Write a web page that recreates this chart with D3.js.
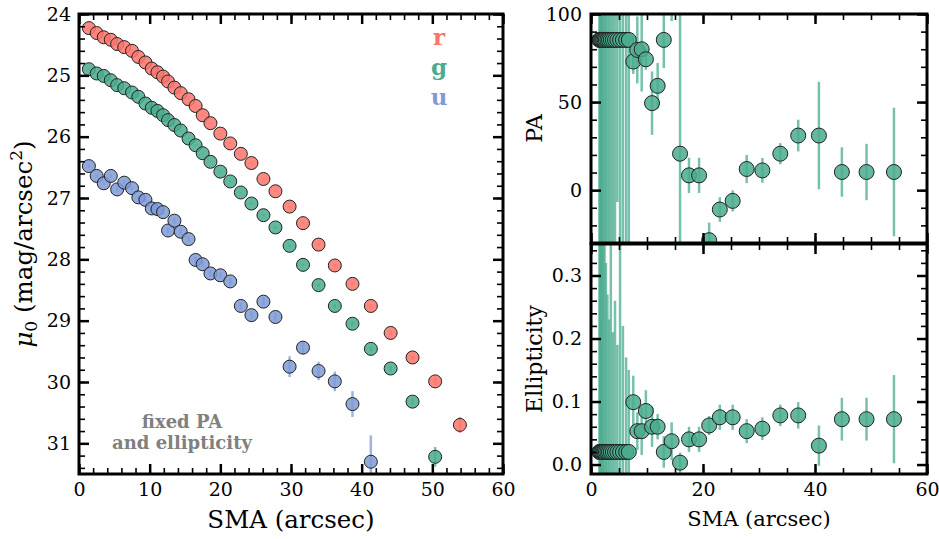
<!DOCTYPE html>
<meta charset="utf-8">
<style>
body { margin: 0; background: #fff; }
text { font-family: "DejaVu Serif", serif; }
.tick text { font-size: 19px; fill: #000; }
.axis path { display: none; }
.axis line { stroke: #000; }
.major line { stroke-width: 2.5; }
.minor line { stroke-width: 1.6; }
</style>
<svg width="939" height="539"></svg>
<script src="https://d3js.org/d3.v7.min.js"></script>
<script>

// ---- left panel: surface brightness profiles (fixed PA / ellipticity) ----
var smaL = [1.4, 2.5, 3.5, 4.5, 5.4, 6.4, 7.5, 8.4, 9.4, 10.3, 11.1, 11.9, 12.6, 13.5, 14.4, 15.5, 16.5, 17.5,
            18.6, 20.0, 21.4, 22.9, 24.4, 26.1, 27.8, 29.8, 31.7, 33.9, 36.2, 38.7, 41.3, 44.1, 47.2, 50.4, 53.9];

var muR = [24.23, 24.31, 24.38, 24.42, 24.49, 24.54, 24.60, 24.70, 24.79, 24.89, 24.95, 25.02, 25.10, 25.20,
           25.29, 25.39, 25.50, 25.65, 25.78, 25.95, 26.11, 26.28, 26.43, 26.69, 26.89, 27.14, 27.41, 27.76,
           28.10, 28.40, 28.76, 29.20, 29.60, 29.99, 30.70];
var errR = [0.01, 0.01, 0.01, 0.01, 0.01, 0.01, 0.01, 0.01, 0.01, 0.01, 0.01, 0.01, 0.01, 0.01, 0.01, 0.01, 0.01,
            0.01, 0.01, 0.01, 0.01, 0.01, 0.01, 0.01, 0.01, 0.01, 0.01, 0.02, 0.02, 0.02, 0.03, 0.03, 0.04, 0.06, 0.13];

var muG = [24.90, 24.97, 25.01, 25.08, 25.16, 25.21, 25.28, 25.35, 25.46, 25.53, 25.58, 25.65, 25.73, 25.81,
           25.90, 26.03, 26.14, 26.27, 26.41, 26.57, 26.73, 26.91, 27.09, 27.28, 27.48, 27.78, 28.09, 28.42,
           28.76, 29.05, 29.46, 29.78, 30.32, 31.22];
var errG = [0.01, 0.01, 0.01, 0.01, 0.01, 0.01, 0.01, 0.01, 0.01, 0.01, 0.01, 0.01, 0.01, 0.01, 0.01, 0.01, 0.01,
            0.01, 0.01, 0.01, 0.01, 0.01, 0.02, 0.02, 0.02, 0.02, 0.02, 0.03, 0.03, 0.04, 0.04, 0.05, 0.06, 0.16];

var muU = [26.48, 26.64, 26.76, 26.64, 26.86, 26.75, 26.84, 26.99, 27.03, 27.17, 27.18, 27.23, 27.53, 27.37,
           27.55, 27.67, 28.01, 28.08, 28.23, 28.26, 28.36, 28.76, 28.91, 28.69, 28.94, 29.75, 29.44, 29.82,
           29.99, 30.36, 31.30];
var errU = [0.03, 0.03, 0.03, 0.03, 0.03, 0.03, 0.03, 0.03, 0.04, 0.04, 0.04, 0.04, 0.04, 0.05, 0.05, 0.05, 0.05,
            0.05, 0.05, 0.05, 0.06, 0.06, 0.06, 0.07, 0.07, 0.17, 0.10, 0.15, 0.16, 0.21, 0.43];

var bands = ["r", "g", "u"];
var bandColors = {r: "#fb746b", g: "#4aab8f", u: "#7f9ad6"};

// ---- right panels: free PA / ellipticity fit ----
var smaF = [1.5, 1.65, 1.82, 2.0, 2.2, 2.42, 2.66, 2.93, 3.22, 3.54, 3.9, 4.29, 4.71, 5.19, 5.7, 6.27, 6.75,
            7.55, 8.27, 9.05, 9.8, 10.9, 11.9, 13.0, 14.4, 15.9, 17.5, 19.3, 21.1, 23.0, 25.3, 27.8, 30.6,
            33.8, 37.0, 40.7, 44.8, 49.2, 54.1];
var paF = [85.3, 85.3, 85.3, 85.3, 85.3, 85.3, 85.3, 85.3, 85.3, 85.3, 85.3, 85.3, 85.3, 85.3, 85.3, 85.3, 85.3,
           73.0, 79.6, 80.0, 74.3, 49.4, 59.2, 85.3, 112, 20.7, 8.4, 8.4, -28.4, -11.0, -6.1, 12.0, 11.2,
           20.7, 31.0, 31.0, 10.3, 10.3, 10.3];
var paErr = [180, 160, 150, 170, 140, 155, 130, 165, 145, 150, 135, 160, 92, 140, 150, 118, 130,
             7, 19, 24, 6, 18, 13, 16, 16, 120, 10, 10, 10, 7, 6, 8, 7, 6, 9, 30.5, 14, 16, 36.5];
var ellF = [0.02, 0.02, 0.02, 0.02, 0.02, 0.02, 0.02, 0.02, 0.02, 0.02, 0.02, 0.02, 0.02, 0.02, 0.02, 0.02, 0.02,
            0.099, 0.053, 0.053, 0.085, 0.06, 0.06, 0.02, 0.037, 0.003, 0.04, 0.04, 0.062, 0.075, 0.075, 0.053,
            0.057, 0.078, 0.078, 0.03, 0.072, 0.072, 0.072];
var ellErr = [0.6, 0.5, 0.45, 0.4, 0.33, 0.36, 0.3, 0.25, 0.21, 0.35, 0.19, 0.24, 0.17, 0.5, 0.2, 0.15, 0.13,
              0.042, 0.03, 0.038, 0.033, 0.032, 0.02, 0.025, 0.03, 0.016, 0.02, 0.02, 0.015, 0.02, 0.02, 0.019,
              0.018, 0.017, 0.021, 0.032, 0.034, 0.034, 0.07];
var fitColor = "#4aab8f";

var svg = d3.select("svg");

/* scales (y ranges given bottom first) */
var xL = d3.scaleLinear().domain([0, 60]).range([79, 503]),
    yL = d3.scaleLinear().domain([31.5, 24]).range([474, 14]);
var xR = d3.scaleLinear().domain([0, 60]).range([591, 927]),
    yPA = d3.scaleLinear().domain([-30, 100]).range([243, 14]),
    yE = d3.scaleLinear().domain([-0.015, 0.35]).range([474, 244]);

function clip(id, x, y) {
  svg.append("clipPath").attr("id", id).append("rect")
    .attr("x", x.range()[0]).attr("y", y.range()[1])
    .attr("width", x.range()[1] - x.range()[0])
    .attr("height", y.range()[0] - y.range()[1]);
}

/* ticks inside on all four sides, plus the frame */
function frame(x, y, o) {
  var x0 = x.range()[0], x1 = x.range()[1], yb = y.range()[0], yt = y.range()[1];
  var sets = [["major", o.xMajor, o.yMajor, 10], ["minor", o.xMinor, o.yMinor, 6]];
  sets.forEach(function(s) {
    var lab = s[0] == "major";
    svg.append("g").attr("class", "axis " + s[0])
      .attr("transform", "translate(0," + yb + ")")
      .call(d3.axisBottom(x).tickValues(s[1]).tickSizeInner(-s[3]).tickSizeOuter(0).tickPadding(9)
        .tickFormat(lab && o.xLabels ? o.xFormat : ""));
    svg.append("g").attr("class", "axis " + s[0])
      .attr("transform", "translate(0," + yt + ")")
      .call(d3.axisTop(x).tickValues(s[1]).tickSizeInner(-s[3]).tickSizeOuter(0).tickFormat(""));
    svg.append("g").attr("class", "axis " + s[0])
      .attr("transform", "translate(" + x0 + ",0)")
      .call(d3.axisLeft(y).tickValues(s[2]).tickSizeInner(-s[3]).tickSizeOuter(0).tickPadding(o.yPad)
        .tickFormat(lab ? o.yFormat : ""));
    svg.append("g").attr("class", "axis " + s[0])
      .attr("transform", "translate(" + x1 + ",0)")
      .call(d3.axisRight(y).tickValues(s[2]).tickSizeInner(-s[3]).tickSizeOuter(0).tickFormat(""));
  });
  svg.append("rect")
    .attr("x", x0).attr("y", yt).attr("width", x1 - x0).attr("height", yb - yt)
    .attr("fill", "none").attr("stroke", "#000").attr("stroke-width", 3);
}

function points(cls, clipId, xs, ys, es, x, y, color, r, barW) {
  var data = xs.map(function(d, i) { return {x: d, y: ys[i], e: es[i]}; })
               .filter(function(d) { return d.y != null; });
  var g = svg.append("g").attr("class", cls).attr("clip-path", "url(#" + clipId + ")");
  g.selectAll("line").data(data).enter().append("line")
    .attr("x1", function(d) { return x(d.x); })
    .attr("x2", function(d) { return x(d.x); })
    .attr("y1", function(d) { return y(d.y - d.e); })
    .attr("y2", function(d) { return y(d.y + d.e); })
    .attr("stroke", color).attr("stroke-opacity", 0.75).attr("stroke-width", barW);
  g.selectAll("circle").data(data).enter().append("circle")
    .attr("cx", function(d) { return x(d.x); })
    .attr("cy", function(d) { return y(d.y); })
    .attr("r", r)
    .attr("fill", color).attr("fill-opacity", 0.85)
    .attr("stroke", "#222").attr("stroke-width", 1);
}

clip("clipL", xL, yL);
clip("clipPA", xR, yPA);
clip("clipE", xR, yE);

/* left panel */
points("u", "clipL", smaL, muU, errU, xL, yL, bandColors.u, 6.5, 2.5);
points("g", "clipL", smaL, muG, errG, xL, yL, bandColors.g, 6.5, 2.5);
points("r", "clipL", smaL, muR, errR, xL, yL, bandColors.r, 6.5, 2.5);

frame(xL, yL, {
  xMajor: d3.range(0, 61, 10), xMinor: d3.range(0, 61, 2),
  yMajor: d3.range(24, 31.5, 1), yMinor: d3.range(24, 31.51, 0.2),
  xLabels: true, xFormat: d3.format("d"), yFormat: d3.format("d"), yPad: 8
});

/* legend letters */
bands.forEach(function(b, i) {
  svg.append("text")
    .attr("x", 439).attr("y", 45 + i * 30)
    .attr("text-anchor", "middle")
    .style("font-size", "23px").style("font-weight", "bold")
    .style("fill", bandColors[b])
    .text(b);
});

svg.append("text")
  .attr("x", 182).attr("y", 428).attr("text-anchor", "middle")
  .style("font-size", "18px").style("font-weight", "bold").style("fill", "#808080")
  .text("fixed PA");
svg.append("text")
  .attr("x", 182).attr("y", 449).attr("text-anchor", "middle")
  .style("font-size", "18px").style("font-weight", "bold").style("fill", "#808080")
  .text("and ellipticity");

svg.append("text")
  .attr("x", 291).attr("y", 528).attr("text-anchor", "middle")
  .style("font-size", "24.5px")
  .text("SMA (arcsec)");

var yl = svg.append("text")
  .attr("transform", "translate(32,244) rotate(-90)")
  .attr("text-anchor", "middle")
  .style("font-size", "24.5px");
yl.append("tspan").style("font-style", "italic").text("μ");
yl.append("tspan").attr("dy", 5).style("font-size", "17px").text("0");
yl.append("tspan").attr("dy", -5).text(" (mag/arcsec");
yl.append("tspan").attr("dy", -10).style("font-size", "17px").text("2");
yl.append("tspan").attr("dy", 10).text(")");

/* right top: PA */
points("pa", "clipPA", smaF, paF, paErr, xR, yPA, fitColor, 7.5, 2.5);
frame(xR, yPA, {
  xMajor: d3.range(0, 61, 20), xMinor: d3.range(0, 61, 5),
  yMajor: [0, 50, 100], yMinor: d3.range(-30, 101, 10),
  xLabels: false, yFormat: d3.format("d"), yPad: 9
});

/* right bottom: ellipticity */
points("ell", "clipE", smaF, ellF, ellErr, xR, yE, fitColor, 7.5, 2.5);
frame(xR, yE, {
  xMajor: d3.range(0, 61, 20), xMinor: d3.range(0, 61, 5),
  yMajor: [0, 0.1, 0.2, 0.3], yMinor: d3.range(0, 0.351, 0.02),
  xLabels: true, xFormat: d3.format("d"), yFormat: d3.format(".1f"), yPad: 9
});

svg.append("text")
  .attr("transform", "translate(542,128.5) rotate(-90)")
  .attr("text-anchor", "middle").style("font-size", "22px")
  .text("PA");
svg.append("text")
  .attr("transform", "translate(542,359) rotate(-90)")
  .attr("text-anchor", "middle").style("font-size", "22px")
  .text("Ellipticity");
svg.append("text")
  .attr("x", 759).attr("y", 526).attr("text-anchor", "middle")
  .style("font-size", "21px")
  .text("SMA (arcsec)");

</script>
